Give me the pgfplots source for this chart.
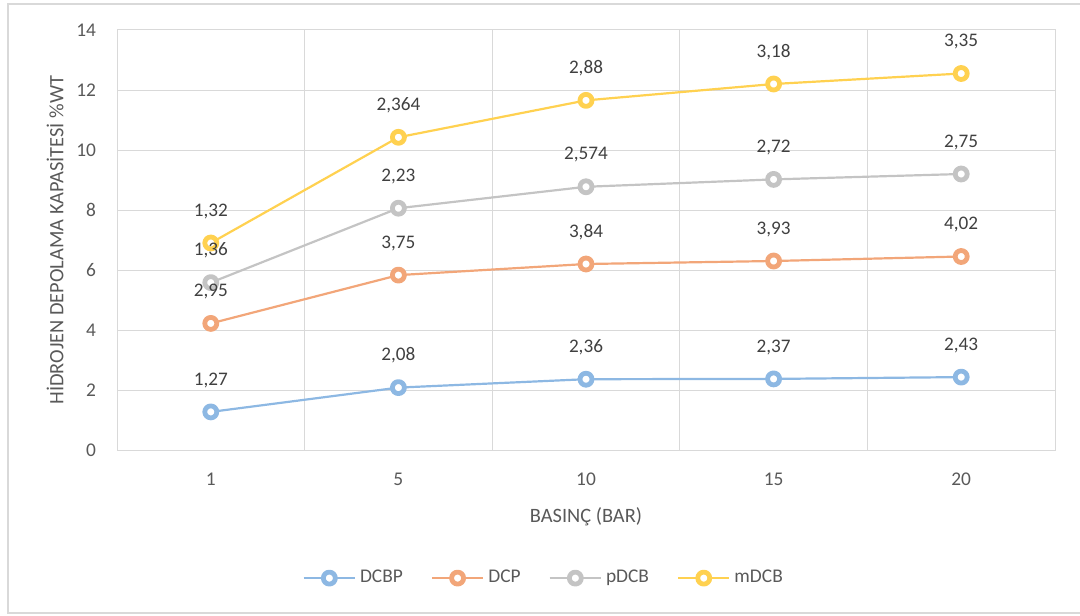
\documentclass[border=0pt]{standalone}
\usepackage{fontspec}
\setmainfont{Carlito}
\usepackage{pgfplots}
\usepackage{pgfplotstable}
\pgfplotsset{compat=1.18}

\definecolor{cBlue}{HTML}{8DB8E3}
\definecolor{cOrange}{HTML}{F2A679}
\definecolor{cGray}{HTML}{C4C4C4}
\definecolor{cGold}{HTML}{FFD150}
\definecolor{gridc}{HTML}{D9D9D9}
\definecolor{txt}{HTML}{595959}
\definecolor{lab}{HTML}{404040}

% x positions: 0=1 bar, 1=5 bar, 2=10 bar, 3=15 bar, 4=20 bar
\pgfplotstableread{
x y lab
0 1.27 1,27
1 2.08 2,08
2 2.36 2,36
3 2.37 2,37
4 2.43 2,43
}\dcbp
\pgfplotstableread{
x y lab
0 2.95 2,95
1 3.75 3,75
2 3.84 3,84
3 3.93 3,93
4 4.02 4,02
}\dcp
\pgfplotstableread{
x y lab
0 1.36 1,36
1 2.23 2,23
2 2.574 2,574
3 2.72 2,72
4 2.75 2,75
}\pdcb
\pgfplotstableread{
x y lab
0 1.32 1,32
1 2.364 2,364
2 2.88 2,88
3 3.18 3,18
4 3.35 3,35
}\mdcb

\begin{document}
\begin{tikzpicture}
\useasboundingbox (0,0) rectangle (540pt,-307.5pt);
% chart frame
\draw[gridc, line width=0.8pt] (541pt,-2pt) -- (4pt,-2pt) -- (4pt,-306.5pt) -- (541pt,-306.5pt);

\begin{axis}[
  at={(58.5pt,-225pt)}, anchor=south west,
  scale only axis, width=469pt, height=210pt,
  xmin=-0.5, xmax=4.5, ymin=0, ymax=14,
  stack plots=y,
  xtick={0,1,2,3,4}, xticklabels={1,5,10,15,20},
  minor xtick={0.5,1.5,2.5,3.5},
  ytick={0,2,...,14},
  xmajorgrids=false, xminorgrids=true, ymajorgrids=true,
  major grid style={gridc, line width=0.5pt},
  minor grid style={gridc, line width=0.5pt},
  axis line style={gridc, line width=0.5pt},
  major tick length=0pt, minor tick length=0pt,
  tick style={draw=none},
  /pgf/number format/assume math mode=true,
  tick label style={font=\fontsize{9.7}{11}\selectfont, text=txt},
  yticklabel shift=7pt,
  xticklabel shift=8pt,
  xlabel={BASINÇ (BAR)},
  ylabel={HİDROJEN DEPOLAMA KAPASİTESİ \%WT},
  label style={font=\fontsize{10.2}{12}\selectfont, text=txt},
  xlabel style={at={(axis description cs:0.5,-0.16)}, anchor=center},
  ylabel style={at={(axis description cs:-0.066,0.5)}, anchor=center, rotate=0},
  point meta=explicit symbolic,
  nodes near coords,
  every node near coord/.style={font=\fontsize{9.6}{11}\selectfont, text=lab, anchor=south, inner sep=0pt, yshift=11pt},
  every axis plot/.append style={line width=1.1pt, mark=*, mark size=3pt},
  legend columns=4,
  legend style={draw=none, fill=none, at={(axis description cs:0.456,-0.305)}, anchor=center,
     font=\fontsize{9.7}{11}\selectfont, text=txt,
     /tikz/every even column/.append style={column sep=12pt}},
  legend image code/.code={\draw[mark repeat=2, mark phase=2] plot coordinates {(0cm,0cm) (0.45cm,0cm) (0.9cm,0cm)};},
  clip=false,
]
\addplot[cBlue, mark options={draw=cBlue, fill=white, line width=2.4pt, line join=round, solid}] table[x=x, y=y, meta=lab] {\dcbp};
\addlegendentry{DCBP}
\addplot[cOrange, mark options={draw=cOrange, fill=white, line width=2.4pt, line join=round, solid}] table[x=x, y=y, meta=lab] {\dcp};
\addlegendentry{DCP}
\addplot[cGray, mark options={draw=cGray, fill=white, line width=2.4pt, line join=round, solid}] table[x=x, y=y, meta=lab] {\pdcb};
\addlegendentry{pDCB}
\addplot[cGold, mark options={draw=cGold, fill=white, line width=2.4pt, line join=round, solid}] table[x=x, y=y, meta=lab] {\mdcb};
\addlegendentry{mDCB}
\end{axis}
\end{tikzpicture}
\end{document}
